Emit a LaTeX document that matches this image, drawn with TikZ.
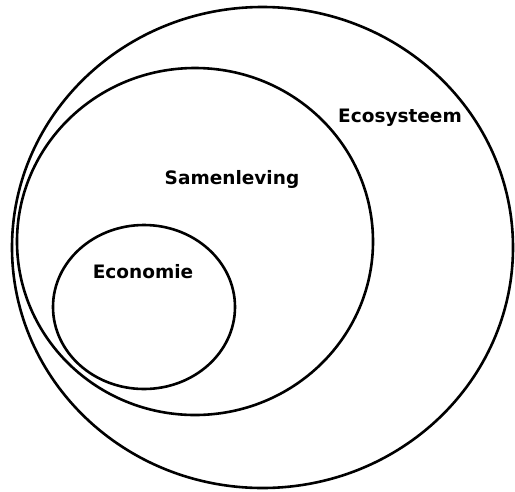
\documentclass[tikz,border=0pt]{standalone}
\usepackage{fontspec}
\setmainfont{DejaVu Sans}
\begin{document}
\begin{tikzpicture}[x=1pt,y=-1pt]
    \useasboundingbox (0,0) rectangle (515,491);
    \draw[line width=2.6pt] (262.5,247.5) ellipse (250.5 and 240.5);
    \draw[line width=2.6pt] (195,241.5) ellipse (178 and 173.5);
    \draw[line width=2.6pt] (144,307) ellipse (91 and 82);

    \node[font=\fontsize{18.5}{20}\selectfont\bfseries] (eco) at (400,118) {Ecosysteem};
    \node[font=\fontsize{18.5}{20}\selectfont\bfseries] (sam) at (232,179) {Samenleving};
    \node[font=\fontsize{18.5}{20}\selectfont\bfseries] (econ) at (143,272) {Economie};
\end{tikzpicture}
\end{document}
